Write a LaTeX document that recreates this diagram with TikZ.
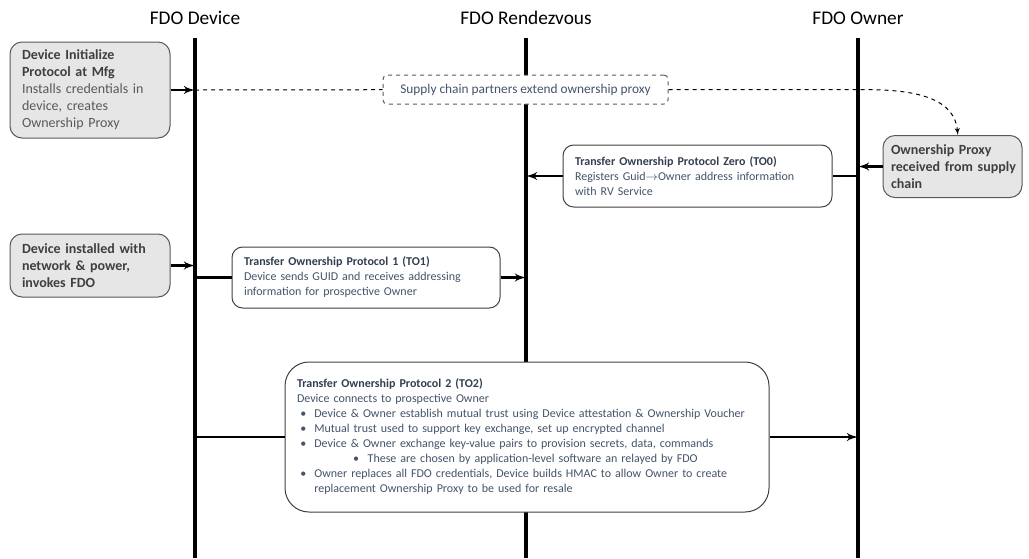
\documentclass[tikz,border=0pt]{standalone}
\usepackage{fontspec}
\setmainfont{Carlito}
\usepackage{tikz}
\usepackage{xcolor}
\usetikzlibrary{positioning}
\usetikzlibrary{shapes, arrows}
\definecolor{boxgray}{HTML}{E7E6E6}
\definecolor{bordergray}{HTML}{595959}
\definecolor{stagetext}{HTML}{3F3F3F}
\definecolor{stagebody}{HTML}{595959}
\definecolor{prototitle}{HTML}{333F50}
\definecolor{protobody}{HTML}{44546A}
\tikzstyle{line} = [draw, line width=1.9pt, -latex']
\tikzstyle{link} = [draw, line width=1.9pt]
\tikzstyle{lifeline} = [draw, line width=2.3pt]
\tikzstyle{stage} = [draw=bordergray, fill=boxgray, rounded corners=9pt, line width=0.75pt, inner xsep=9pt, align=left, text=stagetext, font=\fontsize{10.5}{12.75}\selectfont\bfseries]
\tikzstyle{proto} = [draw=black!75, fill=white, rounded corners=8pt, line width=0.75pt, inner xsep=9pt, align=left, text=protobody, font=\fontsize{9}{11.25}\selectfont]
\newcommand{\bul}{\makebox[13pt][l]{\hspace{2.5pt}\textbullet}}
\newcommand{\subbul}{\makebox[53pt][l]{\hspace{42pt}\textbullet}}

\begin{document}
\begin{tikzpicture}[x=0.75pt, y=-0.75pt, header/.style={font=\fontsize{14.5}{17}\selectfont}]
			\useasboundingbox (0, 0) rectangle (1029, 558);
			\node[header] at (195, 18) (dev) {FDO Device};
			\node[header] at (526, 18) (rdv) {FDO Rendezvous};
			\node[header] at (858, 18) (own) {FDO Owner};
			
			\coordinate (dev-top) at (195, 38);
			\coordinate (dev-bot) at (195, 558);
			\coordinate (rdv-top) at (526, 38);
			\coordinate (rdv-bot) at (526, 558);
			\coordinate (own-top) at (858, 38);
			\coordinate (own-bot) at (858, 558);
			\draw[lifeline] (dev-top) -- (dev-bot);
			\draw[lifeline] (rdv-top) -- (rdv-bot);
			\draw[lifeline] (own-top) -- (own-bot);
			
			\node[stage, minimum width=120pt, minimum height=72pt, text width=102pt] at (90, 90) (init) {Device Initialize\\Protocol at Mfg\\\mdseries\color{stagebody}Installs credentials in\\device, creates\\Ownership Proxy};
			\node[draw=bordergray, dashed, fill=white, rounded corners=3pt, line width=0.75pt, minimum width=213.75pt, minimum height=21.75pt, text=protobody, font=\fontsize{10}{12}\selectfont] at (525.5, 89.5) (supply) {Supply chain partners extend ownership proxy};
			\node[stage, inner xsep=6pt, minimum width=104.25pt, minimum height=46.5pt, text width=92.25pt] at (952.5, 166.5) (proxy) {Ownership Proxy\\\mbox{received from supply}\\chain};
			\node[proto, minimum width=201.75pt, minimum height=46.5pt, text width=183.75pt] at (697.5, 176) (to0) {\textbf{\color{prototitle}Transfer Ownership Protocol Zero (TO0)}\\Registers Guid$\rightarrow$Owner address information\\with RV Service};
			\node[stage, minimum width=120pt, minimum height=47.25pt, text width=102pt] at (90, 265.5) (installed) {Device installed with\\network \& power,\\invokes FDO};
			\node[proto, minimum width=201pt, minimum height=45.75pt, text width=183pt] at (366, 277.5) (to1) {\textbf{\color{prototitle}Transfer Ownership Protocol 1 (TO1)}\\Device sends GUID and receives addressing\\information for prospective Owner};
			\node[proto, rounded corners=18pt, minimum width=363pt, minimum height=112.5pt, text width=345pt] at (527, 437) (to2) {\textbf{\color{prototitle}Transfer Ownership Protocol 2 (TO2)}\\
				Device connects to prospective Owner\\
				\bul Device \& Owner establish mutual trust using Device attestation \& Ownership Voucher\\
				\bul Mutual trust used to support key exchange, set up encrypted channel\\
				\bul Device \& Owner exchange key-value pairs to provision secrets, data, commands\\
				\subbul These are chosen by application-level software an relayed by FDO\\
				\bul Owner replaces all FDO credentials, Device builds HMAC to allow Owner to create\\
				\hspace*{13pt}replacement Ownership Proxy to be used for resale};
			
			\draw[line] (init) -- (init -| dev-top);
			\draw[dashed, line width=0.75pt] (init -| dev-top) -- (supply);
			\draw[dashed, line width=0.75pt, -latex'] (supply) -- (supply -| own-top) to[out=0, in=95] ([xshift=4pt]proxy.north);
			\draw[line] (proxy) -- (proxy -| own-top);
			\draw[link] (to0 -| own-top) -- (to0);
			\draw[line] (to0) -- (to0 -| rdv-top);
			\draw[line] (installed) -- (installed -| dev-top);
			\draw[link] (to1 -| dev-top) -- (to1);
			\draw[line] (to1) -- (to1 -| rdv-top);
			\draw[link] (to2 -| dev-top) -- (to2);
			\draw[line] (to2) -- (to2 -| own-top);
			
			%\draw (supply) to [out=0, in=90] (proxy);
			
		\end{tikzpicture}
\end{document}
